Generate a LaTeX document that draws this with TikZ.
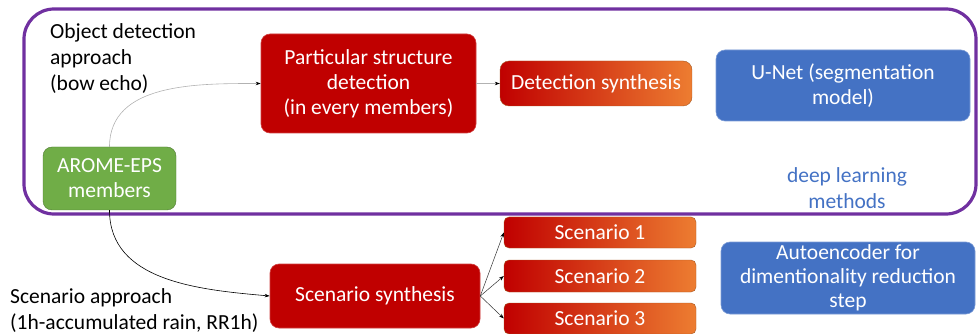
\documentclass[tikz,border=0pt]{standalone}
\usepackage{fontspec}
\setmainfont{Carlito}
\usetikzlibrary{arrows.meta}
\definecolor{frameviolet}{RGB}{112,48,160}
\definecolor{boxred}{RGB}{192,0,0}
\definecolor{boxorange}{RGB}{237,125,49}
\definecolor{boxblue}{RGB}{68,114,196}
\definecolor{boxgreen}{RGB}{112,173,71}
\tikzset{
  box/.style={rounded corners=9pt, align=center, text=white, inner sep=0pt,
    font=\fontsize{21.5}{25}\selectfont},
  redbox/.style={box, fill=boxred, draw=boxred!75!white, line width=0.6pt},
  gradbox/.style={box, left color=boxred, right color=boxorange, draw=boxorange!70!black, line width=0.4pt},
  bluebox/.style={box, fill=boxblue, draw=boxblue!70!white, line width=0.6pt},
  greenbox/.style={box, fill=boxgreen, draw=boxgreen!70!black, line width=0.4pt},
  plain/.style={align=left, inner sep=0pt, font=\fontsize{21.5}{26}\selectfont},
  tip/.style={-{Stealth[black,length=5pt,width=3.5pt]}}
}

\begin{document}
\begin{tikzpicture}[x=1pt,y=-1pt]
\useasboundingbox (0,0) rectangle (978,334);
\draw[frameviolet, line width=3.2pt, rounded corners=30pt] (24,9) rectangle (976,214);

\node[plain, anchor=west] (objtxt) at (50,59) {Object detection\\approach\\(bow echo)};
\node[plain, anchor=west] (scentxt) at (10,311) {Scenario approach\\(1h-accumulated rain, RR1h)};
\node[plain, align=center, text=boxblue] (dltxt) at (847,188) {deep learning\\methods};

\node[greenbox, minimum width=133pt, minimum height=63pt] (arome) at (109.5,178.5) {AROME-EPS\\members};
\node[redbox, minimum width=215pt, minimum height=99pt] (partic) at (368.5,83.5) {Particular structure\\detection\\(in every members)};
\node[gradbox, minimum width=192pt, minimum height=45pt] (detsyn) at (596,83.5) {Detection synthesis};
\node[bluebox, minimum width=254pt, minimum height=71pt] (unet) at (843,85.5) {U-Net (segmentation\\model)};

\node[redbox, minimum width=210pt, minimum height=64pt] (scensyn) at (375,296) {Scenario synthesis};
\node[gradbox, minimum width=192pt, minimum height=31pt, rounded corners=5pt] (scen1) at (600,232.5) {Scenario 1};
\node[gradbox, minimum width=192pt, minimum height=32pt, rounded corners=5pt] (scen2) at (600,276) {Scenario 2};
\node[gradbox, minimum width=192pt, minimum height=31pt, rounded corners=5pt] (scen3) at (600,318.5) {Scenario 3};
\node[bluebox, minimum width=254pt, minimum height=72pt, font=\fontsize{21.5}{24}\selectfont] (autoenc) at (848,278) {Autoencoder for\\dimentionality reduction\\step};

\draw[gray!60, line width=0.6pt, tip] (arome.north) to[out=90, in=180] (partic.west);
\draw[gray!60, line width=0.6pt, tip] (partic.east) -- (detsyn.west);
\draw[black, line width=0.6pt, tip] (arome.south) to[out=-90, in=175] (scensyn.west);
\foreach \s in {scen1,scen2,scen3}
  \draw[black!80, line width=0.5pt, tip] (scensyn.east) -- (\s.west);
\end{tikzpicture}
\end{document}
